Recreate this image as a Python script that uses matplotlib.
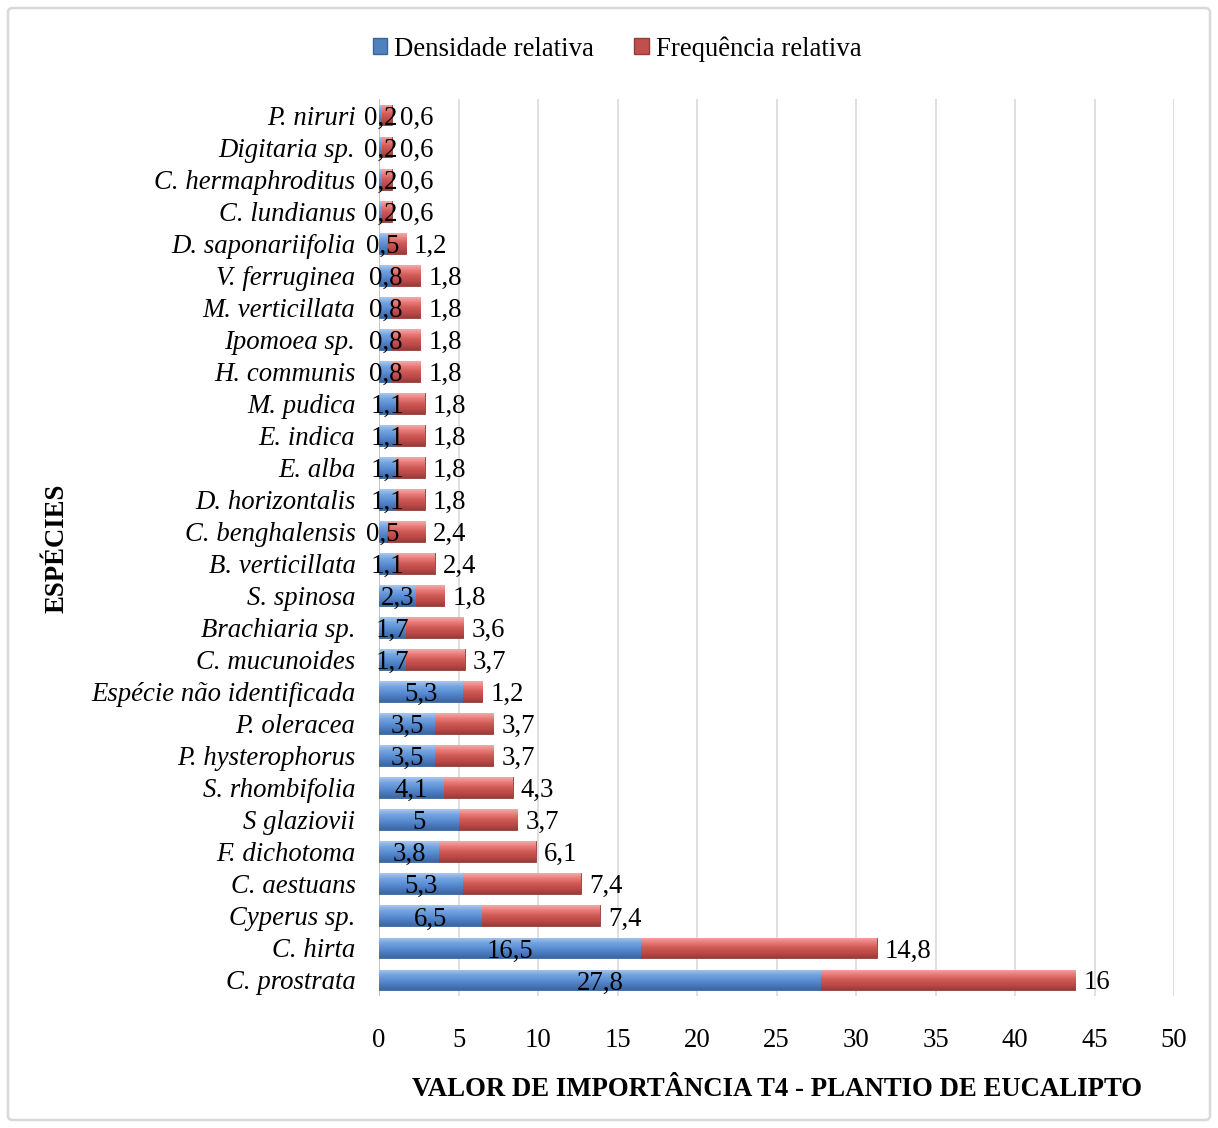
import matplotlib
matplotlib.use("Agg")
import matplotlib.pyplot as plt
import numpy as np
from matplotlib.patches import FancyBboxPatch, Patch
from matplotlib.colors import LinearSegmentedColormap

species = ["P. niruri", "Digitaria sp.", "C. hermaphroditus", "C. lundianus",
           "D. saponariifolia", "V. ferruginea", "M. verticillata", "Ipomoea sp.",
           "H. communis", "M. pudica", "E. indica", "E. alba", "D. horizontalis",
           "C. benghalensis", "B. verticillata", "S. spinosa", "Brachiaria sp.",
           "C. mucunoides", "Espécie não identificada", "P. oleracea",
           "P. hysterophorus", "S. rhombifolia", "S glaziovii", "F. dichotoma",
           "C. aestuans", "Cyperus sp.", "C. hirta", "C. prostrata"]
densidade = [0.2, 0.2, 0.2, 0.2, 0.5, 0.8, 0.8, 0.8, 0.8, 1.1, 1.1, 1.1, 1.1,
             0.5, 1.1, 2.3, 1.7, 1.7, 5.3, 3.5, 3.5, 4.1, 5, 3.8, 5.3, 6.5, 16.5, 27.8]
frequencia = [0.6, 0.6, 0.6, 0.6, 1.2, 1.8, 1.8, 1.8, 1.8, 1.8, 1.8, 1.8, 1.8,
              2.4, 2.4, 1.8, 3.6, 3.7, 1.2, 3.7, 3.7, 4.3, 3.7, 6.1, 7.4, 7.4, 14.8, 16]
series_names = ["Densidade relativa", "Frequência relativa"]
xticks = [0, 5, 10, 15, 20, 25, 30, 35, 40, 45, 50]

plt.rcParams['font.family'] = ['Liberation Serif', 'DejaVu Serif']
FS = 19.3

W, H = 1218, 1128
fig = plt.figure(figsize=(W / 100, H / 100), dpi=100)
ax = fig.add_axes([379 / W, 1 - 996 / H, (1174 - 379) / W, (996 - 99) / H])

y = np.arange(len(species))
bh = 0.65
blue = "#4F81BD"
red = "#C0504D"
b1 = ax.barh(y, densidade, height=bh, color=blue, edgecolor="#3A659B", linewidth=0.6, zorder=3)
b2 = ax.barh(y, frequencia, left=densidade, height=bh, color=red, edgecolor="#943C39", linewidth=0.6, zorder=3)

cmap_b = LinearSegmentedColormap.from_list("b", ["#A9C8EE", "#78A6E0", "#5D91D6", "#4A7BBE", "#3C67A3"])
cmap_r = LinearSegmentedColormap.from_list("r", ["#F5AAA8", "#E57C79", "#D05A56", "#BB4B48", "#9C3A37"])
grad = np.linspace(0, 1, 64).reshape(-1, 1)
for bars, cm in ((b1, cmap_b), (b2, cmap_r)):
    for p in bars:
        x0, y0 = p.get_x(), p.get_y()
        w, h = p.get_width(), p.get_height()
        im = ax.imshow(grad, cmap=cm, aspect="auto", extent=(x0, x0 + w, y0 + h, y0),
                       origin="upper", zorder=3.5, interpolation="bilinear")
        im.set_clip_path(p)

ax.set_ylim(len(species) - 0.5, -0.5)
ax.set_xlim(0, 50)
ax.set_yticks(y)
ax.set_yticklabels(species, fontsize=FS, style="italic")
ax.set_xticks(xticks)
ax.set_xticklabels([str(t) for t in xticks], fontsize=FS)
ax.tick_params(axis="both", length=0)
ax.tick_params(axis="x", pad=23)
ax.tick_params(axis="y", pad=17)
for s in ax.spines.values():
    s.set_visible(False)
ax.axvline(0, color="#BFBFBF", linewidth=1.2, zorder=2)
ax.grid(axis="x", color="#D9D9D9", linewidth=1.2, zorder=0)
ax.set_axisbelow(True)

def fmt(v):
    return (f"{v:g}").replace(".", ",")

for i in range(len(species)):
    ax.text(densidade[i] / 2, y[i], fmt(densidade[i]), ha="center", va="center_baseline",
            fontsize=FS, zorder=5)
    ax.text(densidade[i] + frequencia[i] + 0.5, y[i], fmt(frequencia[i]), ha="left",
            va="center_baseline", fontsize=FS, zorder=5)

ax.set_xlabel("VALOR DE IMPORTÂNCIA T4 - PLANTIO DE EUCALIPTO", fontsize=FS,
              fontweight="bold", labelpad=17)
fig.text(57 / W, 1 - 548 / H, "ESPÉCIES", rotation=90, ha="center", va="center",
         fontsize=FS, fontweight="bold")

handles = [Patch(facecolor=blue, edgecolor="#3A659B"), Patch(facecolor=red, edgecolor="#943C39")]
fig.legend(handles, series_names, loc="center", bbox_to_anchor=(617 / W, 1 - 49 / H),
           ncol=2, frameon=False, fontsize=FS, handlelength=0.55, handleheight=0.55,
           handletextpad=0.25, columnspacing=1.5)

border = FancyBboxPatch((8 / W, 8 / H), (1210 - 8) / W, (1120 - 8) / H,
                        boxstyle="round,pad=0,rounding_size=0.004", transform=fig.transFigure,
                        facecolor="none", edgecolor="#D9D9D9", linewidth=1.8)
fig.patches.append(border)

fig.savefig("out.png", dpi=100, facecolor="white")
